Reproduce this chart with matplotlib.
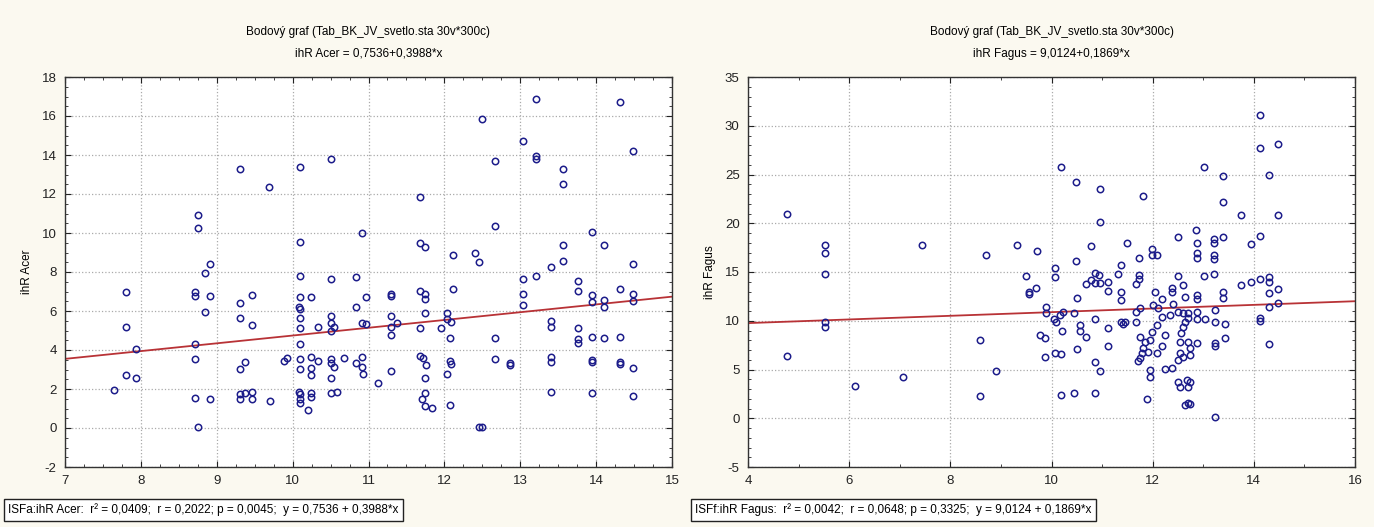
import numpy as np
import matplotlib
matplotlib.use('Agg')
from matplotlib import pyplot as plt
from matplotlib.ticker import MultipleLocator

plt.rcParams['font.family'] = ['Liberation Sans', 'DejaVu Sans']
plt.rcParams['axes.unicode_minus'] = False

# ihR Acer vs ISFa
acer_x = [13.21, 14.31, 12.50, 13.03, 13.21, 13.21, 12.67, 14.48, 13.57, 13.57, 11.68, 12.67, 13.94, 10.91,
          11.68, 11.74, 13.57, 14.11, 12.11, 12.40, 12.45, 13.57, 13.40, 14.48,
          13.03, 13.21, 13.03, 13.03, 13.76, 13.76, 13.94, 13.94, 14.11, 14.11, 14.31, 14.48, 14.48, 10.97,
          11.30, 11.30, 11.68, 11.74, 11.74, 11.74, 12.11, 10.91, 10.97, 11.30, 11.30, 11.37, 11.30, 11.68,
          11.95, 12.03, 12.03, 12.09, 12.07, 12.67, 13.40, 13.40, 13.76, 13.76, 13.76, 13.94, 14.11, 14.31,
          10.91, 10.91, 10.93, 11.13, 11.30, 11.68, 11.72, 11.76, 11.74, 11.74, 11.70, 11.74, 11.84, 12.07,
          12.09, 12.03, 12.07, 12.67, 12.86, 12.86, 12.45, 12.50, 13.40, 13.40, 13.40, 13.94, 13.94, 13.94,
          14.31, 14.31, 14.48, 14.48,
          9.31, 9.69, 10.10, 10.50, 8.75, 8.75, 10.10, 8.91,
          8.84, 7.81, 7.81, 7.94, 7.81, 7.94, 7.65, 8.71, 8.71, 8.91, 8.84, 8.71, 8.71, 8.71, 8.91, 8.75,
          9.31, 9.46, 9.31, 9.46, 9.37, 9.31, 9.31, 9.37, 9.46, 9.31, 9.46, 9.70, 9.88, 9.92, 10.10, 10.10,
          10.24, 10.08, 10.10, 10.10, 10.10, 10.10, 10.10, 10.10, 10.08, 10.10, 10.10, 10.10, 10.20, 10.24,
          10.24, 10.24, 10.24, 10.24, 10.33, 10.33, 10.50, 10.50, 10.50, 10.50, 10.55, 10.50, 10.50, 10.55,
          10.50, 10.50, 10.58, 10.68, 10.83, 10.83, 10.83]
acer_y = [16.86, 16.72, 15.86, 14.73, 13.95, 13.81, 13.68, 14.20, 13.28, 12.51, 11.85, 10.38, 10.07, 10.02,
          9.49, 9.27, 9.40, 9.40, 8.87, 8.96, 8.50, 8.56, 8.27, 8.41,
          7.64, 7.79, 6.89, 6.29, 7.52, 7.04, 6.80, 6.48, 6.56, 6.21, 7.11, 6.89, 6.53, 6.73,
          6.89, 6.75, 7.04, 6.89, 6.60, 5.91, 7.11, 5.37, 5.33, 5.74, 5.19, 5.37, 4.75, 5.13,
          5.13, 5.91, 5.57, 5.44, 4.60, 4.60, 5.47, 5.19, 5.13, 4.55, 4.38, 4.65, 4.60, 4.65,
          3.62, 3.11, 2.77, 2.29, 2.94, 3.69, 3.59, 3.23, 2.55, 1.78, 1.51, 1.13, 1.03, 3.44,
          3.28, 2.77, 1.18, 3.54, 3.32, 3.23, 0.03, 0.03, 3.66, 3.40, 1.85, 3.49, 3.38, 1.78,
          3.38, 3.28, 3.08, 1.64,
          13.28, 12.36, 13.37, 13.81, 10.92, 10.24, 9.56, 8.41,
          7.97, 6.96, 5.20, 4.07, 2.70, 2.55, 1.93, 6.96, 6.75, 6.75, 5.96, 4.29, 3.54, 1.56, 1.49, 0.03,
          6.43, 6.80, 5.66, 5.28, 3.38, 3.01, 1.74, 1.81, 1.86, 1.49, 1.49, 1.40, 3.45, 3.60, 7.79, 6.73,
          6.73, 6.22, 6.12, 5.66, 5.11, 4.29, 3.54, 3.01, 1.86, 1.74, 1.49, 1.27, 0.94, 3.66,
          3.06, 2.70, 1.81, 1.60, 5.20, 3.45, 7.64, 5.74, 5.40, 4.97, 5.20, 3.54, 3.35, 3.11,
          2.55, 1.78, 1.86, 3.60, 7.73, 6.22, 3.32]

# ihR Fagus vs ISFf
fagus_x = [4.78, 4.78, 5.52, 5.52, 5.52, 5.52, 5.52, 6.11, 7.06, 7.43,
           8.59, 8.59, 8.70, 8.91, 9.31, 9.72, 9.49, 9.55, 9.55, 9.69,
           9.89, 9.89, 9.77, 9.87, 9.87, 10.07, 10.07,
           10.19, 10.48, 10.48, 10.79, 10.96, 10.96,
           10.86, 10.93, 10.86, 10.96, 10.79, 10.69, 11.12, 11.12,
           11.32, 11.37, 11.49, 11.81, 11.72, 11.98, 11.98, 12.09,
           11.72, 11.72, 11.68, 11.37, 11.37,
           12.50, 13.02, 13.22, 12.59, 12.39,
           12.50, 12.85, 12.88, 12.88, 12.88, 13.22, 13.22, 13.22, 13.22,
           13.02, 13.40, 13.40, 13.40, 13.74, 13.95, 14.12,
           14.12, 14.12, 14.47, 14.29, 14.47,
           13.74, 13.95, 14.12, 14.29, 14.29, 14.29, 14.47, 14.29, 14.47, 14.12, 14.12, 14.29,
           10.51, 10.23, 10.17, 10.45, 10.04, 10.09,
           10.21, 10.56, 10.56, 10.68, 10.51, 10.07, 10.18,
           10.86, 11.12, 11.12, 10.86, 10.96, 10.19, 10.45, 10.86, 11.37, 11.42,
           13.23,
           12.04, 12.18, 12.38, 12.64, 12.87, 12.87, 13.39, 13.39,
           12.01, 12.11, 12.41, 12.50, 12.60, 12.70, 12.87, 11.75, 11.68, 13.23,
           11.45, 11.68, 12.18, 12.34, 12.64, 12.70, 12.87, 13.03, 13.23, 13.43,
           12.08, 11.98, 12.24, 12.60, 12.57, 11.75, 11.85, 11.94, 12.54, 12.70, 12.87, 13.23, 13.43,
           11.81, 12.18, 11.78, 11.91, 12.08, 11.75, 11.71, 12.54, 12.60, 12.74, 12.74, 12.50,
           11.94, 11.94, 12.24, 12.38,
           12.50, 12.54, 12.67, 12.74, 12.70,
           11.88, 12.64, 12.70, 12.74, 13.23]
fagus_y = [20.98, 6.35, 17.77, 16.98, 14.76, 9.90, 9.36, 3.31, 4.23, 17.77,
           8.03, 2.25, 16.74, 4.85, 17.77, 17.19, 14.59, 12.98, 12.74, 13.39,
           11.38, 10.83, 8.54, 8.20, 6.25, 15.44, 14.52,
           25.74, 24.20, 16.13, 17.67, 23.48, 20.10,
           14.93, 14.69, 13.84, 13.84, 14.18, 13.74, 13.97, 13.08,
           14.76, 15.72, 17.97, 22.83, 16.44, 17.33, 16.74, 16.74,
           14.69, 14.25, 13.74, 12.98, 12.13,
           14.59, 14.59, 14.76, 13.67, 13.39,
           18.56, 19.31, 18.00, 16.98, 16.40, 18.38, 18.00, 16.74, 16.30,
           25.74, 24.81, 22.21, 18.56, 20.85, 17.84, 18.72,
           31.07, 27.69, 28.16, 24.95, 20.85,
           13.67, 13.94, 14.25, 14.46, 13.94, 12.81, 13.23, 11.44, 11.85, 10.25, 10.00, 7.58,
           12.30, 10.93, 10.59, 10.83, 10.15, 9.90,
           8.98, 9.56, 8.98, 8.30, 7.13, 6.72, 6.59,
           10.15, 9.22, 7.41, 5.77, 4.88, 2.42, 2.56, 2.56, 9.90, 9.67,
           7.41,
           12.98, 12.20, 12.98, 12.47, 12.64, 12.20, 12.98, 12.30,
           11.62, 11.28, 11.72, 10.93, 10.76, 10.83, 10.93, 11.28, 10.93, 11.10,
           9.90, 9.90, 10.42, 10.59, 9.90, 10.25, 10.15, 10.15, 9.90, 9.67,
           9.56, 8.88, 8.54, 9.39, 8.71, 8.36, 7.85, 8.03, 7.85, 7.85, 7.75, 7.69, 8.20,
           7.17, 7.41, 6.66, 6.83, 6.66, 6.15, 5.90, 6.66, 6.31, 7.17, 6.49, 5.97,
           4.95, 4.26, 5.02, 5.19,
           3.75, 3.24, 3.92, 3.75, 3.24,
           1.94, 1.36, 1.53, 1.46, 0.16]

title1 = 'Bodový graf (Tab_BK_JV_svetlo.sta 30v*300c)'
panels = [
    dict(x=acer_x, y=acer_y, a=0.7536, b=0.3988, xlim=(7, 15), ylim=(-2, 18),
         xmaj=1, xmin=0.25, ymaj=2, ymin=0.5, ylabel='ihR Acer',
         eq='ihR Acer = 0,7536+0,3988*x',
         box='ISFa:ihR Acer:  r\u00b2 = 0,0409;  r = 0,2022; p = 0,0045;  y = 0,7536 + 0,3988*x',
         rect=[65 / 1374, 60 / 527, 607 / 1374, 390 / 527], boxx=8 / 1374),
    dict(x=fagus_x, y=fagus_y, a=9.0124, b=0.1869, xlim=(4, 16), ylim=(-5, 35),
         xmaj=2, xmin=1, ymaj=5, ymin=1, ylabel='ihR Fagus',
         eq='ihR Fagus = 9,0124+0,1869*x',
         box='ISFf:ihR Fagus:  r\u00b2 = 0,0042;  r = 0,0648; p = 0,3325;  y = 9,0124 + 0,1869*x',
         rect=[748 / 1374, 60 / 527, 607 / 1374, 390 / 527], boxx=695 / 1374),
]

fig = plt.figure(figsize=(13.74, 5.27), dpi=100, facecolor='#fbf9f0')

for p in panels:
    ax = fig.add_axes(p['rect'])
    ax.set_facecolor('white')
    ax.plot(p['x'], p['y'], 'o', ms=4.6, mfc='none', mec='#1c1c8a', mew=1.1, zorder=3)
    xx = np.array(p['xlim'])
    ax.plot(xx, p['a'] + p['b'] * xx, color='#b83236', lw=1.3, zorder=2)
    ax.set_xlim(p['xlim'])
    ax.set_ylim(p['ylim'])
    ax.xaxis.set_major_locator(MultipleLocator(p['xmaj']))
    ax.xaxis.set_minor_locator(MultipleLocator(p['xmin']))
    ax.yaxis.set_major_locator(MultipleLocator(p['ymaj']))
    ax.yaxis.set_minor_locator(MultipleLocator(p['ymin']))
    ax.tick_params(which='both', direction='in', top=True, right=True, labelsize=9.5, colors='#222222')
    ax.tick_params(which='major', length=4, pad=6)
    ax.tick_params(which='minor', length=2)
    ax.grid(True, which='major', color='#aaaaaa', ls=':', lw=0.9)
    for s in ax.spines.values():
        s.set_color('#333333')
        s.set_linewidth(1.0)
    ax.set_ylabel(p['ylabel'], fontsize=8.5, labelpad=6)
    cx = p['rect'][0] + p['rect'][2] / 2
    fig.text(cx, 1 - 32 / 527, title1, ha='center', va='center', fontsize=8.5)
    fig.text(cx, 1 - 54 / 527, p['eq'], ha='center', va='center', fontsize=8.5)
    fig.text(p['boxx'], 1 - 510 / 527, p['box'], ha='left', va='center', fontsize=8.5,
             bbox=dict(boxstyle='square,pad=0.35', fc='white', ec='#222222', lw=1.0))

fig.savefig('out.png', dpi=100, facecolor=fig.get_facecolor())
